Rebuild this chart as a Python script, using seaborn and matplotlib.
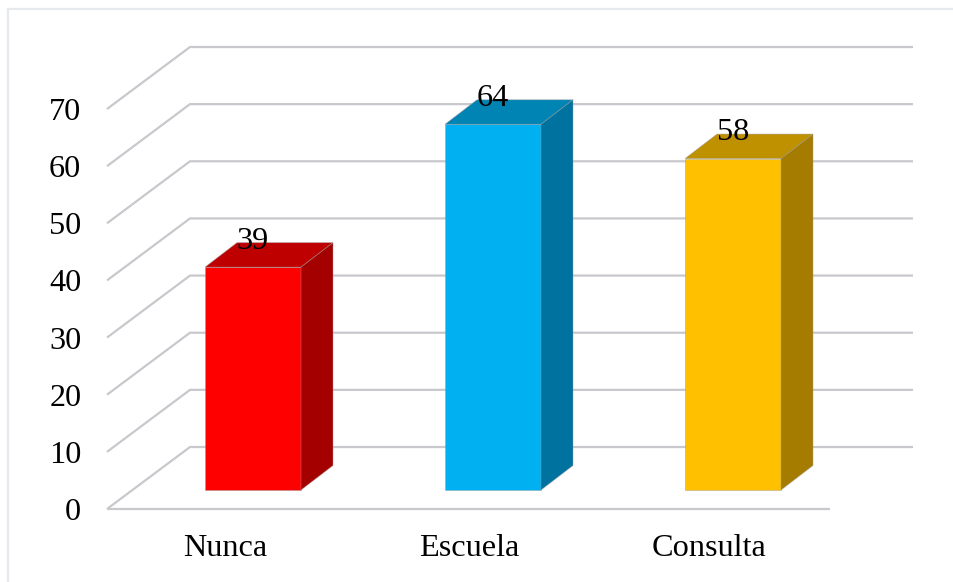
import matplotlib
matplotlib.use("Agg")
import matplotlib.pyplot as plt
from matplotlib.lines import Line2D
import seaborn as sns
import pandas as pd

categories = ["Nunca", "Escuela", "Consulta"]
values = [39, 64, 58]
front_colors = ["#FF0000", "#00B0F0", "#FFC000"]
top_colors = ["#BF0000", "#0084B4", "#BF9000"]
side_colors = ["#A50000", "#0072A0", "#A67C00"]
y_ticks = [0, 10, 20, 30, 40, 50, 60, 70]
label_shift_px = [-28, -24, -24]

W, H = 954, 582
FS = 23.2
sns.set_theme(style="white")
plt.rcParams["font.family"] = ["Liberation Serif", "DejaVu Serif"]

# pixel geometry of the pseudo-3D box
left_px, right_px, bottom_px, top_px = 107, 913, 509, 47
px_per_unit = 400 / 70
px_per_cat = 240
base_px = 490            # where value 0 sits on the bars
first_center_px = 253

fig = plt.figure(figsize=(W / 100, H / 100), dpi=100, facecolor="white")
ax = fig.add_axes([left_px / W, 1 - bottom_px / H, (right_px - left_px) / W, (bottom_px - top_px) / H])

df = pd.DataFrame({"cat": categories, "val": values})
sns.barplot(data=df, x="cat", y="val", hue="cat", palette=front_colors, width=0.4, saturation=1,
            legend=False, ax=ax, linewidth=0.6, edgecolor=(0.6, 0.6, 0.6, 0.5))

ax.set_xlim((left_px - first_center_px) / px_per_cat, (right_px - first_center_px) / px_per_cat)
ax.set_ylim((base_px - bottom_px) / px_per_unit, (base_px - top_px) / px_per_unit)
xmin, xmax = ax.get_xlim()
ymin, ymax = ax.get_ylim()

# depth offsets in data units
bar_dx, bar_dy = 32 / px_per_cat, 24.5 / px_per_unit
wall_dx = 83 / px_per_cat
front_y0 = ymin
back_y0 = (base_px - 447) / px_per_unit
floor_end = (830 - first_center_px) / px_per_cat

grid_style = dict(color="#C8C8CD", lw=1.6, clip_on=False, zorder=1, solid_capstyle="butt", solid_joinstyle="miter")
for v in y_ticks:
    ax.plot([xmin, xmin + wall_dx, xmax], [front_y0 + v, back_y0 + v, back_y0 + v], **grid_style)
ax.plot([xmin, floor_end], [front_y0, front_y0], **grid_style)

edge = (0.6, 0.6, 0.6, 0.5)
for patch, val, tc, sc in zip(ax.patches, values, top_colors, side_colors):
    patch.set_zorder(3)
    x0, w = patch.get_x(), patch.get_width()
    x1 = x0 + w
    ax.fill([x0, x1, x1 + bar_dx, x0 + bar_dx], [val, val, val + bar_dy, val + bar_dy],
            facecolor=tc, edgecolor=edge, linewidth=0.6, zorder=3)
    ax.fill([x1, x1 + bar_dx, x1 + bar_dx, x1], [0, bar_dy, val + bar_dy, val],
            facecolor=sc, edgecolor=edge, linewidth=0.6, zorder=3)
    ax.annotate(f"{val}", (x0 + w / 2, val), xytext=(0, 18.5), textcoords="offset points",
                ha="center", va="center", fontsize=FS, color="black", zorder=5)

ax.set_yticks([front_y0 + v for v in y_ticks], labels=[str(v) for v in y_ticks])
ax.set_xticks([i + s / px_per_cat for i, s in enumerate(label_shift_px)], labels=categories)
ax.tick_params(axis="y", length=0, pad=18.5, labelsize=FS, labelcolor="black")
ax.tick_params(axis="x", length=0, pad=18.3, labelsize=FS, labelcolor="black")
ax.set_xlabel("")
ax.set_ylabel("")
sns.despine(ax=ax, left=True, bottom=True)
ax.patch.set_alpha(0)

# outer chart frame
frame = dict(color="#E6E9EE", lw=1.6, transform=fig.transFigure)
fig.add_artist(Line2D([8 / W, 8 / W], [0, 1 - 9 / H], **frame))
fig.add_artist(Line2D([8 / W, 1], [1 - 9 / H, 1 - 9 / H], **frame))

fig.savefig("out.png", dpi=100)
